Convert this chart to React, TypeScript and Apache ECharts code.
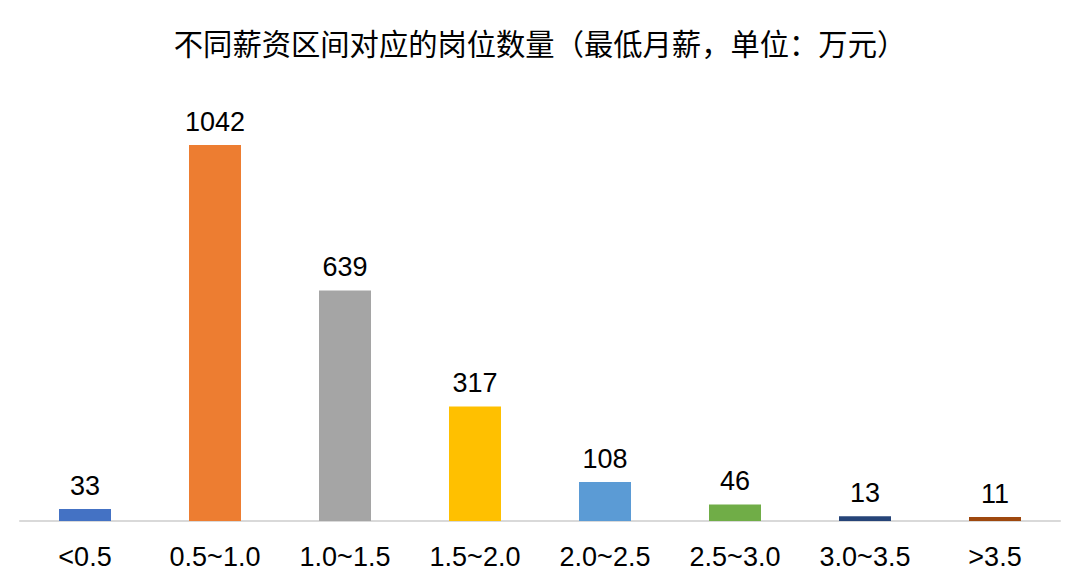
import React, { useEffect, useRef } from "react";
import * as echarts from "echarts";

const titleText = "不同薪资区间对应的岗位数量（最低月薪，单位：万元）";
const categories = ["<0.5", "0.5~1.0", "1.0~1.5", "1.5~2.0", "2.0~2.5", "2.5~3.0", "3.0~3.5", ">3.5"];
const counts = [33, 1042, 639, 317, 108, 46, 13, 11];
const barColors = ["#4472C4", "#ED7D31", "#A5A5A5", "#FFC000", "#5B9BD5", "#70AD47", "#264478", "#9E480E"];

export default function App() {
  const ref = useRef<HTMLDivElement>(null);
  useEffect(() => {
    if (!ref.current) return;
    const chart = echarts.init(ref.current, null, { renderer: "svg" });
    chart.setOption({
      animation: false,
      backgroundColor: "#ffffff",
      title: {
        text: titleText,
        left: "center",
        top: 25,
        textStyle: {
          fontFamily: "'Liberation Sans', 'Noto Sans CJK SC', sans-serif",
          fontSize: 29.3,
          fontWeight: "normal",
          color: "#000000",
        },
      },
      grid: { left: 20, right: 20, top: 88, bottom: 64, containLabel: false },
      xAxis: {
        type: "category",
        data: categories,
        axisLine: { lineStyle: { color: "#D9D9D9", width: 2 } },
        axisTick: { show: false },
        axisLabel: {
          color: "#000000",
          fontSize: 27,
          margin: 22,
          fontFamily: "'Liberation Sans', Arial, sans-serif",
          interval: 0,
        },
      },
      yAxis: {
        type: "value",
        min: 0,
        max: 1200,
        show: false,
        splitLine: { show: false },
      },
      series: [
        {
          type: "bar",
          data: counts.map((v, i) => ({ value: v, itemStyle: { color: barColors[i] } })),
          barWidth: 52,
          label: {
            show: true,
            position: "top",
            distance: 10,
            color: "#000000",
            fontSize: 27,
            fontFamily: "'Liberation Sans', Arial, sans-serif",
          },
        },
      ],
    });
    return () => chart.dispose();
  }, []);
  return <div ref={ref} style={{ width: 1080, height: 585, position: "absolute", left: 0, top: 0 }} />;
}
